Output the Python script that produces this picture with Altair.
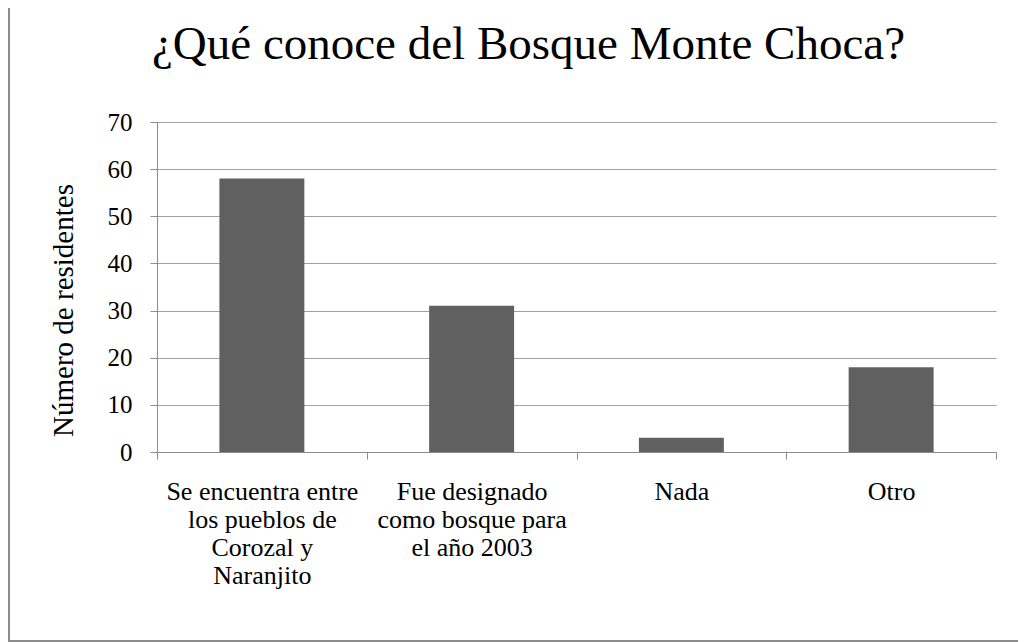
import altair as alt
import pandas as pd

categories = [
    "Se encuentra entre|los pueblos de|Corozal y|Naranjito",
    "Fue designado|como bosque para|el año 2003",
    "Nada",
    "Otro",
]
values = [58, 31, 3, 18]
y_ticks = [0, 10, 20, 30, 40, 50, 60, 70]
title_text = "¿Qué conoce del Bosque Monte Choca?"
y_title = "Número de residentes"

FONT = "Times New Roman"
AXIS_GRAY = "#8c8c8c"

df = pd.DataFrame({"cat": categories, "n": values})

bars = alt.Chart(df).mark_bar(
    width=alt.RelativeBandSize(0.405), color="#606060"
).encode(
    x=alt.X(
        "cat:N",
        sort=categories,
        scale=alt.Scale(paddingInner=0, paddingOuter=0),
        axis=alt.Axis(
            title=None,
            labelAngle=0,
            labelExpr="split(datum.label, '|')",
            labelFont=FONT,
            labelFontSize=26,
            labelColor="black",
            labelLineHeight=28,
            labelPadding=19,
            labelBaseline="top",
            labelLimit=0,
            tickBand="extent",
            tickSize=7,
            tickColor=AXIS_GRAY,
            domainColor=AXIS_GRAY,
            grid=False,
        ),
    ),
    y=alt.Y(
        "n:Q",
        scale=alt.Scale(domain=[0, 70]),
        axis=alt.Axis(
            values=y_ticks,
            title=y_title,
            titleFont=FONT,
            titleFontSize=29,
            titleFontWeight="normal",
            titleColor="black",
            titleAngle=270,
            titleAlign="center",
            titleBaseline="middle",
            titleX=-94,
            titleY=188,
            labelFont=FONT,
            labelFontSize=25,
            labelColor="black",
            labelPadding=18,
            tickSize=7,
            tickColor=AXIS_GRAY,
            domainColor=AXIS_GRAY,
            gridColor="#a0a0a0",
        ),
    ),
)

one_row = alt.Data(values=[{"t": title_text}])

frame = alt.Chart(one_row).mark_rect(
    fillOpacity=0, stroke=AXIS_GRAY, strokeWidth=2
).encode(
    x=alt.value(-148), x2=alt.value(900), y=alt.value(-118), y2=alt.value(519)
)

title = alt.Chart(one_row).mark_text(
    font=FONT, fontSize=47, color="black", align="center", baseline="alphabetic"
).encode(
    text="t:N", x=alt.value(371.5), y=alt.value(-63)
)

chart = alt.layer(frame, bars, title).properties(
    width=839,
    height=330,
    autosize=alt.AutoSizeParams(type="none"),
    padding={"left": 149, "top": 114, "right": 22, "bottom": 190},
).configure_view(stroke=None)

chart.save("out.html", embed_options={"renderer": "svg", "actions": False})
